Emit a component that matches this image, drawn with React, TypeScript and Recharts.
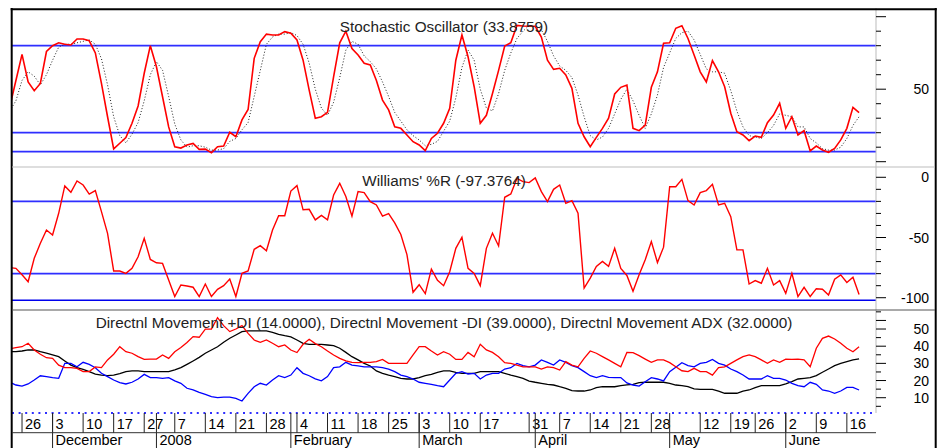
import React from 'react'
import { LineChart, Line, XAxis, YAxis, ReferenceLine } from 'recharts'

// trading-day index -2 .. 137 (Nov 2007 - Jun 2008)
const stochK = [
  38, 56, 74, 55, 49, 54, 76, 80, 82, 81,
  80.5, 84.6, 84.6, 83.4, 75, 54, 31, 8.8, 12.7, 16.6,
  26.5, 38.4, 61, 80, 65.5, 44.8, 24, 10.3, 9.4, 11.5,
  12.6, 8.5, 8.7, 6.2, 10.3, 10.8, 20.3, 17.2, 28.8, 36,
  71.3, 82.8, 88, 87.4, 87.4, 89.7, 88.6, 84, 70, 49.4,
  30, 31, 34, 58.6, 82, 90, 78, 73.6, 67.9, 66.7,
  56, 42.5, 35.7, 24, 23, 18.4, 13.8, 11.5, 7.6, 16,
  19.6, 26.5, 36.8, 70, 87.4, 72.4, 51.7, 26.5, 32, 47,
  63, 79.8, 82, 94, 93.6, 93.4, 93.4, 86, 70, 63.7,
  64.4, 59.8, 50.6, 26.5, 17.2, 10.3, 16.8, 23, 30, 46.7,
  51.3, 52.9, 23, 21.4, 25.3, 51.3, 62, 81.7, 82, 92,
  93.8, 85, 73.6, 62, 55, 69.7, 62, 51.7, 33.4, 20.7,
  18.4, 14.5, 17.7, 16.8, 26.9, 32.2, 40.3, 23, 31, 18.4,
  21.4, 7.4, 10.8, 8.1, 6.5, 9.2, 15, 23, 37.5, 33.9,
]
const stochD = [
  35, 42, 56, 62, 59, 53, 60, 70, 79, 81,
  81, 82, 83, 84, 81, 71, 53, 31, 18, 13,
  19, 27, 42, 60, 69, 63, 45, 26, 15, 10,
  11, 11, 10, 8, 8, 9, 14, 16, 22, 27,
  45, 63, 81, 86, 88, 88, 89, 87, 81, 68,
  50, 37, 32, 41, 58, 77, 83, 81, 73, 69,
  64, 55, 45, 34, 28, 22, 18, 15, 11, 12,
  14, 21, 28, 44, 65, 77, 70, 50, 37, 35,
  47, 63, 75, 85, 90, 94, 93, 91, 83, 73,
  66, 63, 58, 46, 31, 18, 15, 17, 23, 33,
  43, 50, 42, 32, 23, 33, 46, 65, 75, 85,
  89, 90, 84, 74, 64, 62, 62, 61, 49, 35,
  24, 18, 17, 16, 20, 25, 33, 32, 31, 24,
  24, 16, 13, 9, 8, 8, 10, 16, 25, 31,
]
const williamsR = [
  -75, -75.6, -81, -86.7, -67.3, -54.8, -43.8, -47.9, -29.9, -7.2,
  -12.5, -3, -6.4, -14, -11, -28.5, -46.5, -77.8, -77.8, -79.8,
  -75.6, -66, -50.7, -68.2, -71, -71.5, -85.3, -99, -89.4, -90.3,
  -91.3, -99, -88.6, -99, -93, -90, -84.5, -99, -79.8, -77.8,
  -59.8, -56.8, -61, -43.8, -31.9, -31.9, -11.4, -6.9, -27, -26.6,
  -35.4, -31.7, -35.4, -14.7, -5, -16, -32.3, -11.9, -12.7, -20.2,
  -23, -32.3, -30.1, -37.8, -47.5, -64.2, -95.5, -89.2, -96.6, -76.2,
  -85.6, -90, -78.4, -59, -49.8, -75.6, -79.8, -90, -59, -46.5,
  -57, -16.6, -13.8, -1, -3.6, -4.4, -0.5, -11.9, -20.2, -10,
  -6.4, -21.6, -19.4, -29.9, -92, -83.7, -74, -69.9, -74, -59,
  -75.6, -81.5, -94.7, -80.9, -68.5, -53.3, -70.8, -58, -7.8, -7.8,
  -1.7, -19.4, -23, -12.7, -11, -5.8, -23, -21.6, -32.7, -60.3,
  -60.3, -88.6, -85.8, -88, -75.6, -89.4, -85.8, -96.4, -79.8, -99,
  -91.3, -99, -92.5, -93, -97.8, -84.7, -81, -87.4, -83, -97.4,
]
const plusDI = [
  19, 17.4, 16.8, 18, 20.3, 22.8, 22.3, 21.7, 21.3, 30,
  30, 28, 30.6, 29.4, 27.5, 24.2, 22.3, 20.3, 18.8, 18,
  19, 20.9, 23.6, 21.7, 21.7, 21.3, 21.7, 19.8, 18.4, 15.5,
  14.5, 13.1, 12, 10.6, 10, 10.4, 10.4, 9.6, 8.1, 12.5,
  16.4, 18.4, 17.4, 20.3, 22.8, 21.7, 23.2, 27.5, 24.2, 22.8,
  21, 19.8, 22.3, 27.5, 28, 30.6, 29, 28.5, 28, 28,
  28, 27.5, 26.7, 25.2, 23.2, 22.3, 20.9, 19, 18.4, 17.8,
  17, 16.4, 20.3, 24.2, 25.2, 23.8, 24.2, 20.9, 23.2, 24.2,
  24.2, 26.7, 27.5, 30, 28.7, 28, 29, 32, 30.6, 29,
  32, 30.6, 28.7, 27.5, 25.2, 22.8, 21.7, 22.8, 21.9, 21.7,
  21.7, 18.6, 17.4, 16.8, 19.3, 21.7, 20.9, 19.8, 25.2, 27.7,
  30.4, 28.7, 28, 30, 30.6, 32.3, 30, 29, 26.7, 25.2,
  23.2, 20.9, 20.9, 20.9, 22.8, 21.3, 21.3, 20.3, 18.4, 17,
  16.4, 19, 17.8, 14.5, 13.9, 12.5, 13.9, 16, 16, 14.5,
]
const minusDI = [
  38.5, 39.2, 39.7, 41.7, 37.8, 35.3, 33.3, 32.9, 29, 27.5,
  27.5, 27.1, 25.2, 25.2, 27.9, 27.5, 32, 35.3, 39.7, 36.8,
  35.9, 33.9, 32.3, 32.5, 32.5, 34.9, 32.9, 36.8, 39.2, 42.2,
  45.6, 45.2, 50, 50, 56.6, 52, 48.5, 50, 52, 47.5,
  43.6, 42.2, 43.6, 41.7, 39.7, 40.7, 37.8, 36.3, 41.1, 44,
  41.5, 39.7, 37.2, 34.9, 32.9, 31.4, 30.6, 30.4, 30.6, 30.6,
  31, 32.3, 30, 30, 30, 30, 34.9, 39.7, 39.7, 37.2,
  34.9, 36.8, 35.3, 32.3, 32.3, 36.4, 33.9, 41.1, 37.8, 36.4,
  33.9, 30.4, 30, 29, 28, 28, 28, 26.7, 28, 27.5,
  26.1, 31, 29, 28, 32.9, 37.2, 35.9, 33.9, 32, 30,
  28, 36.4, 36.2, 34.5, 32.5, 30.6, 32, 32, 30.4, 28,
  25.7, 25.2, 27.1, 25.2, 25.2, 23.2, 27.5, 28, 30, 32,
  33.9, 34.9, 33.9, 32, 30, 32, 30.6, 32.5, 32.3, 32.5,
  32, 28, 38.8, 44.6, 45.9, 44.2, 41.7, 38.8, 36.8, 39.7,
]
const adx = [
  36.8, 36.8, 37.2, 37.8, 37.8, 36.8, 35.9, 34.9, 33.9, 31.4,
  29, 27.5, 26.5, 25.2, 23.8, 23.2, 22.9, 23.2, 24, 25.2,
  25.6, 25.6, 25.2, 25.2, 25.2, 25.2, 25.2, 26.2, 27.5, 29.4,
  31.4, 33.5, 35.9, 37.8, 39.7, 42.3, 44.6, 46.5, 48.5, 48.9,
  48.9, 48.9, 48.9, 48.1, 46.9, 46.1, 45.4, 43.6, 41.7, 41.1,
  41.1, 41.1, 40.7, 40.3, 38.8, 36.4, 33.9, 32, 30, 28.5,
  25.6, 24.2, 23.2, 22.3, 21.3, 20.9, 20.9, 21.7, 22.9, 23.6,
  24.8, 25.6, 25.6, 24.8, 24.2, 24.2, 24.2, 25.2, 25.2, 25.2,
  25.2, 24.2, 23.2, 22.3, 21.3, 19.7, 19, 18.4, 17.8, 17.4,
  16.4, 15.5, 14.1, 13.9, 13.9, 14.5, 15.9, 16.4, 16.4, 16.4,
  17, 17.5, 17.8, 18.8, 19, 19, 19, 19, 18.4, 17.4,
  17, 16.4, 15.1, 14.9, 14.9, 14.9, 13.9, 12.6, 12.6, 12.6,
  13.9, 14.5, 15.9, 17, 17, 17, 17, 18, 19.4, 20.9,
  21.3, 21.7, 22.9, 24.8, 26.7, 28.7, 30, 31, 32, 32.6,
]

// week / month labels on the date axis (by trading-day index)
const weekDays = [0, 5, 10, 15, 20, 25, 30, 35, 40, 45, 50, 55, 60, 65, 70, 75, 83, 88, 93, 98, 103, 111, 116, 120, 125, 130, 135]
const weekLabels = ['26', '3', '10', '17', '27', '7', '14', '21', '28', '4', '11', '18', '25', '3', '10', '17', '31', '7', '14', '21', '28', '12', '19', '26', '2', '9', '16']
const monthDays = [5, 22, 44, 65, 84, 106, 125]
const monthLabels = ['December', '2008', 'February', 'March', 'April', 'May', 'June']

const rows = stochK.map((k, i) => ({
  day: i - 2,
  k,
  d: stochD[i],
  r: williamsR[i],
  plus: plusDI[i],
  minus: minusDI[i],
  adx: adx[i],
}))

const FONT = '"Liberation Sans", Arial, sans-serif'
const BLUE = '#2f2fff'
const xDomain = [-1.64, 139.77]
const dateTicks = Array.from(new Set([...weekDays, ...monthDays])).sort((a, b) => a - b)

function makeRightTick(majors: number[], labels: number[]) {
  return (props: any) => {
    const { x, y, payload } = props
    const v = payload.value
    const major = majors.includes(v)
    return (
      <g>
        <line x1={x} x2={x + (major ? 10 : 5)} y1={y} y2={y} stroke="#000" strokeWidth={1} />
        {labels.includes(v) && (
          <text x={x + 53} y={y} dy="0.36em" textAnchor="end" fontSize={14} fontFamily={FONT} fill="#000">
            {v}
          </text>
        )}
      </g>
    )
  }
}

function DateTick(props: any) {
  const { x, y, payload } = props
  const w = weekDays.indexOf(payload.value)
  const m = monthDays.indexOf(payload.value)
  return (
    <g fontFamily={FONT} fill="#000">
      {w >= 0 && <line x1={x} x2={x} y1={y} y2={y + 20} stroke="#222" />}
      {w >= 0 && (
        <text x={x + 3} y={y + 16} fontSize={14.5}>{weekLabels[w]}</text>
      )}
      {m >= 0 && <line x1={x} x2={x} y1={y} y2={y + 36} stroke="#222" />}
      {m >= 0 && (
        <text x={x + 3} y={y + 32} fontSize={14.5}>{monthLabels[m]}</text>
      )}
    </g>
  )
}

const MARGIN = { top: 0, right: 10, bottom: 0, left: 12 }

export default function App() {
  return (
    <div style={{ position: 'absolute', left: 0, top: 0, width: 946, height: 448, background: '#fff', overflow: 'hidden' }}>
      {/* Stochastic */}
      <div style={{ position: 'absolute', left: 0, top: 8 }}>
        <LineChart width={946} height={159} data={rows} margin={MARGIN}>
          <XAxis type="number" dataKey="day" domain={xDomain} allowDataOverflow hide ticks={weekDays} />
          <YAxis
            orientation="right"
            width={60}
            domain={[-3.66, 106]}
            allowDataOverflow
            ticks={[0, 10, 20, 30, 40, 50, 60, 70, 80, 90, 100]}
            interval={0}
            tickLine={false}
            tickSize={0}
            tickMargin={0}
            axisLine={{ stroke: '#bbb' }}
            tick={makeRightTick([0, 50, 100], [50])}
          />
          <ReferenceLine y={80} stroke={BLUE} strokeWidth={1.7} />
          <ReferenceLine y={20} stroke={BLUE} strokeWidth={1.7} />
          <ReferenceLine y={7} stroke={BLUE} strokeWidth={1.7} />
          <Line dataKey="d" stroke="#222" strokeWidth={1} strokeDasharray="1 2" dot={false} isAnimationActive={false} />
          <Line dataKey="k" stroke="#ff0000" strokeWidth={1.6} dot={false} isAnimationActive={false} />
        </LineChart>
      </div>

      {/* Williams %R */}
      <div style={{ position: 'absolute', left: 0, top: 167 }}>
        <LineChart width={946} height={143} data={rows} margin={MARGIN}>
          <XAxis type="number" dataKey="day" domain={xDomain} allowDataOverflow hide ticks={weekDays} />
          <YAxis
            orientation="right"
            width={60}
            domain={[-110.2, 8.55]}
            allowDataOverflow
            ticks={[0, -10, -20, -30, -40, -50, -60, -70, -80, -90, -100]}
            interval={0}
            tickLine={false}
            tickSize={0}
            tickMargin={0}
            axisLine={{ stroke: '#bbb' }}
            tick={makeRightTick([0, -50, -100], [0, -50, -100])}
          />
          <ReferenceLine y={-20} stroke={BLUE} strokeWidth={1.7} />
          <ReferenceLine y={-80} stroke={BLUE} strokeWidth={1.7} />
          <ReferenceLine y={-102} stroke="#0000ee" strokeWidth={1.5} />
          <Line dataKey="r" stroke="#ff0000" strokeWidth={1.4} dot={false} isAnimationActive={false} />
        </LineChart>
      </div>

      {/* Directional movement */}
      <div style={{ position: 'absolute', left: 0, top: 310 }}>
        <LineChart width={946} height={138} data={rows} margin={MARGIN}>
          <XAxis
            type="number"
            dataKey="day"
            domain={xDomain}
            allowDataOverflow
            ticks={dateTicks}
            interval={0}
            height={35}
            tickLine={false}
            tickSize={0}
            tickMargin={0}
            axisLine={{ stroke: BLUE, strokeWidth: 2, strokeDasharray: '2 4.6' }}
            tick={<DateTick />}
          />
          <YAxis
            orientation="right"
            width={60}
            domain={[1.1, 61.08]}
            allowDataOverflow
            ticks={[5, 10, 15, 20, 25, 30, 35, 40, 45, 50, 55, 60]}
            interval={0}
            tickLine={false}
            tickSize={0}
            tickMargin={0}
            axisLine={{ stroke: '#bbb' }}
            tick={makeRightTick([10, 20, 30, 40, 50, 55], [10, 20, 30, 40, 50])}
          />
          <Line dataKey="adx" stroke="#000" strokeWidth={1.3} dot={false} isAnimationActive={false} />
          <Line dataKey="plus" stroke="#0000ff" strokeWidth={1.3} dot={false} isAnimationActive={false} />
          <Line dataKey="minus" stroke="#ff0000" strokeWidth={1.3} dot={false} isAnimationActive={false} />
        </LineChart>
      </div>

      {/* frame, separators and panel titles */}
      <svg width={946} height={448} style={{ position: 'absolute', left: 0, top: 0, pointerEvents: 'none' }}>
        <line x1={10.7} x2={936.7} y1={9.2} y2={9.2} stroke="#000" strokeWidth={2} />
        <line x1={11.7} x2={11.7} y1={8} y2={448} stroke="#000" strokeWidth={2} />
        <line x1={935.7} x2={935.7} y1={8} y2={448} stroke="#000" strokeWidth={2} />
        <line x1={12} x2={935} y1={167} y2={167} stroke="#bdbdbd" />
        <line x1={12} x2={935} y1={310} y2={310} stroke="#555" />
        <line x1={12} x2={876} y1={432.7} y2={432.7} stroke="#333" />
        <g fontFamily={FONT} fontSize={15.3} fill="#222" textAnchor="middle">
          <text x={444} y={31.5}>Stochastic Oscillator (33.8759)</text>
          <text x={444} y={185.5}>Williams' %R (-97.3764)</text>
          <text x={444} y={328.3}>
            Directnl Movement +DI (14.0000), Directnl Movement -DI (39.0000), Directnl Movement ADX (32.0000)
          </text>
        </g>
      </svg>
    </div>
  )
}
